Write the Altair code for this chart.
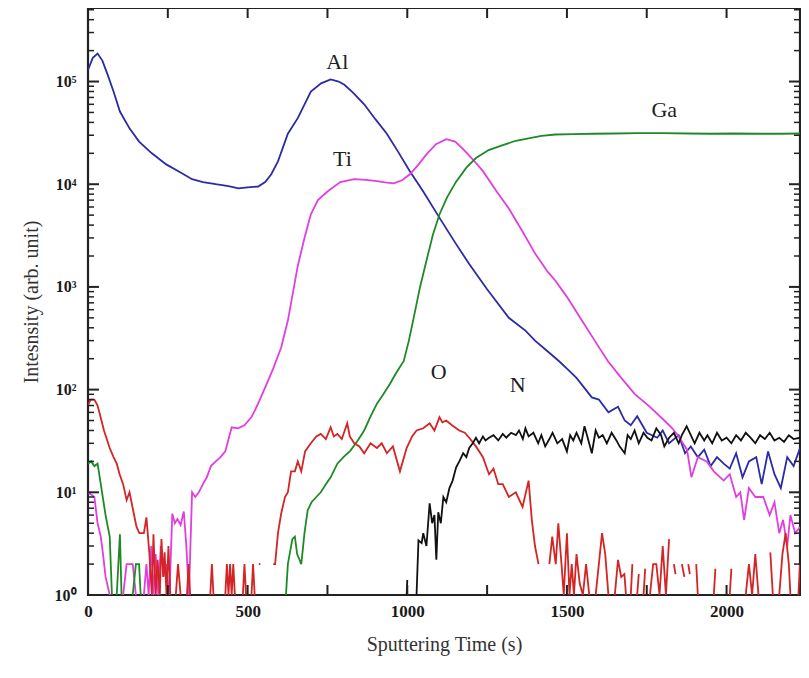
import altair as alt
import pandas as pd

# ---------------- data ----------------
al_x = [0, 15, 30, 45, 60, 80, 100, 130, 160, 200, 245, 290, 326, 360, 400, 440, 471, 500, 533, 555,
        574, 595, 626, 657, 698, 730, 760, 785, 803, 830, 865, 900, 936, 970, 1008, 1050, 1101, 1150,
        1194, 1250, 1318, 1370, 1400, 1430, 1473, 1500, 1530, 1578, 1600, 1630, 1660, 1681, 1700, 1720,
        1750, 1783, 1800, 1820, 1850, 1870, 1888, 1910, 1930, 1950, 1970, 1991, 2010, 2030, 2050, 2070,
        2093, 2110, 2130, 2150, 2170, 2190, 2210, 2230]
al_y = [1.3e5, 1.7e5, 1.87e5, 1.6e5, 1.2e5, 8e4, 5.1e4, 3.5e4, 2.6e4, 2.0e4, 1.56e4, 1.3e4, 1.12e4,
        1.05e4, 1.0e4, 9.6e3, 9.1e3, 9.3e3, 9.5e3, 1.05e4, 1.25e4, 1.67e4, 3.1e4, 4.4e4, 8e4, 9.6e4,
        1.05e5, 1.0e5, 9.3e4, 7.8e4, 6e4, 4.3e4, 3.1e4, 2.1e4, 1.34e4, 8.5e3, 4.7e3, 2.7e3, 1.67e3,
        950, 500, 375, 300, 250, 192, 160, 130, 84, 80, 60, 68, 50, 45, 55, 38, 34, 40, 30, 36, 24, 28,
        22, 26, 18, 22, 19, 17, 24, 14, 20, 22, 12, 25, 15, 11, 22, 18, 27]

ti_x = [0, 10, 20, 30, 40, 47, 55, 68, 90, 110, 121, 130, 140, 150, 162, 175, 183, 190, 198, 205, 212,
        220, 228, 236, 245, 255, 264, 272, 280, 290, 300, 308, 316, 326, 336, 347, 360, 372, 385, 400,
        415, 430, 450, 470, 490, 512, 530, 555, 580, 605, 626, 657, 678, 698, 720, 750, 790, 834, 870,
        905, 930, 958, 985, 1008, 1035, 1060, 1090, 1122, 1150, 1175, 1205, 1237, 1280, 1318, 1360,
        1401, 1440, 1464, 1500, 1547, 1590, 1628, 1670, 1712, 1760, 1805, 1830, 1850, 1876, 1890, 1910,
        1938, 1960, 1991, 2010, 2030, 2043, 2055, 2070, 2090, 2115, 2135, 2150, 2165, 2177, 2190, 2200,
        2215, 2230]
ti_y = [10, 9.5, 9, 5, 3.7, 2.5, 1.5, 1, None, 1, 2, 2, 2, 1, None, 1, 2, 1, 3, 1, 2.5, 1, 3, 1.5, 2,
        1, 6.2, 5, 5.5, 4.8, 6.5, 3, 1, 10, 9, 10, 12, 14, 18, 20, 22, 25, 43, 42, 45, 54, 70, 105,
        160, 257, 470, 1.6e3, 3e3, 5.1e3, 7e3, 8.5e3, 1.05e4, 1.12e4, 1.1e4, 1.07e4, 1.04e4, 1.02e4,
        1.1e4, 1.25e4, 1.55e4, 1.95e4, 2.45e4, 2.75e4, 2.6e4, 2.2e4, 1.75e4, 1.34e4, 8.5e3, 5.8e3,
        3.5e3, 2.1e3, 1.4e3, 1.15e3, 800, 470, 290, 190, 130, 91, 68, 50, 42, 35, 26, 14, 22, 20, 16,
        13, 15, 9, 10, 5.4, 11, 9, 9, 6, 8, 4, 5.4, 3, 6, 4, 4.6]

ga_x = [0, 10, 20, 30, 40, 55, 68, 75, 82, 90, 100, 105, 120, 140, 150, 160, 165, 400, 620, 626, 640,
        648, 655, 668, 678, 688, 700, 715, 729, 745, 760, 781, 800, 822, 845, 865, 885, 905, 925, 946,
        965, 989, 1005, 1020, 1040, 1060, 1080, 1101, 1125, 1153, 1185, 1215, 1255, 1299, 1340, 1380,
        1420, 1464, 1520, 1580, 1650, 1720, 1800, 1880, 1950, 2020, 2100, 2170, 2230]
ga_y = [19, 20, 18, 19, 12, 6, 3.7, 1, None, 1, 3.9, 1, None, 1, 2, 2, 1, None, 1, 2, 3.5, 3.7, 2.5,
        2, 4, 6.7, 8, 9, 10, 12, 14, 19, 22, 25.5, 32, 40, 55, 73, 90, 114, 145, 190, 300, 500, 1000,
        1.8e3, 3.2e3, 5.1e3, 7.5e3, 1.06e4, 1.45e4, 1.8e4, 2.15e4, 2.4e4, 2.65e4, 2.8e4, 2.95e4,
        3.05e4, 3.08e4, 3.1e4, 3.12e4, 3.15e4, 3.15e4, 3.12e4, 3.1e4, 3.12e4, 3.1e4, 3.1e4, 3.12e4]

o_x = [0, 8, 20, 30, 37, 50, 68, 80, 90, 99, 110, 121, 130, 140, 152, 161, 175, 183, 192, 200, 205,
       212, 218, 225, 230, 236, 240, 246, 252, 258, 266, 275, 282, 290, 300, 310, 315, 320, 350, 383,
       388, 393, 410, 430, 435, 440, 445, 450, 455, 460, 472, 485, 490, 495, 505, 512, 517, 522, 528,
       535, 540, 560, 580, 586, 595, 605, 617, 626, 636, 648, 657, 668, 680, 698, 715, 729, 745, 760,
       770, 781, 795, 812, 820, 834, 850, 865, 885, 905, 920, 936, 955, 977, 998, 1015, 1029, 1050,
       1070, 1085, 1101, 1110, 1122, 1140, 1163, 1180, 1194, 1215, 1237, 1256, 1270, 1285, 1299, 1318,
       1340, 1361, 1380, 1390, 1400, 1411, 1430, 1445, 1454, 1465, 1473, 1483, 1490, 1500, 1508, 1515,
       1522, 1530, 1540, 1550, 1560, 1570, 1580, 1590, 1600, 1610, 1620, 1630, 1640, 1650, 1660, 1670,
       1680, 1685, 1692, 1700, 1705, 1712, 1720, 1725, 1732, 1740, 1745, 1752, 1760, 1770, 1780, 1790,
       1800, 1810, 1820, 1828, 1835, 1840, 1850, 1860, 1868, 1874, 1880, 1885, 1895, 1905, 1910, 1930,
       1960, 1965, 1990, 2010, 2015, 2030, 2060, 2070, 2080, 2090, 2100, 2120, 2137, 2145, 2155, 2165,
       2175, 2185, 2195, 2200, 2215, 2225, 2230]
o_y = [70, 80, 80, 70, 58, 40, 27, 22, 19, 15, 12, 8.4, 10, 7, 4.6, 4, 4, 5.7, 2.6, 1, 3.9, 1, 2.2,
       1, 3.5, 1.5, 2.6, 1, 3, 1, None, 1, 2, 1, None, 1, 2, 1, None, 1, 2, 1, None, 1, 2, 1, 2, 1,
       2, 1, None, 1, 2, 1, None, 1, 2, 1, None, 2, 2, None, 2, 2, 4, 6.2, 9, 10, 16, 16, 20, 16, 25,
       30, 35, 37, 33, 43, 35, 37, 33, 47, 35, 30, 28, 24, 30, 27, 30, 24, 28, 16, 27, 35, 40, 42, 47,
       40, 54, 48, 50, 45, 40, 38, 34, 28, 22, 15, 17, 12, 12, 9, 10, 7.2, 13, 5.4, 3, 2, None, 2,
       3.7, 2, 5, 2, 1, 4, 1, 2, 1, 2.5, 1.3, 1, 2, 1, None, 1, 2, 4, 2.5, 1, None, 1, 2.2, 1.5, 1.6,
       1, None, 1, 2, None, 1, 1.6, None, 1, 1.8, None, 1, 2, 2, 1, 3, 1, 3.5, None, 2, 1.6, None, 2,
       1.5, None, 2, 1.6, None, 2, 1, None, 1, 1.8, None, 1, 1.8, None, 1, 2, 1, 2.5, 1, None, 2.6, 1,
       None, 1, 2.5, 4, 2, 1, None, 1, 2]

n_x = [998, 1000, 1010, 1029, 1035, 1045, 1050, 1060, 1070, 1078, 1085, 1091, 1097, 1105, 1113, 1122,
       1132, 1142, 1153, 1163, 1175, 1185, 1194, 1205, 1215, 1225, 1237, 1245, 1256, 1270, 1285, 1299,
       1310, 1325, 1340, 1350, 1362, 1370, 1380, 1395, 1410, 1420, 1432, 1445, 1455, 1470, 1485, 1500,
       1510, 1520, 1530, 1545, 1555, 1565, 1578, 1590, 1600, 1612, 1625, 1640, 1655, 1665, 1681, 1690,
       1700, 1712, 1725, 1740, 1752, 1765, 1780, 1795, 1805, 1820, 1835, 1850, 1860, 1875, 1888, 1900,
       1915, 1930, 1940, 1955, 1970, 1985, 2000, 2015, 2030, 2045, 2060, 2075, 2090, 2105, 2120, 2135,
       2150, 2165, 2180, 2195, 2210, 2230]
n_y = [1, 1.4, None, 1, 3.4, 3.2, 4, 3, 7.8, 5, 6, 2.2, 6.4, 5, 9, 8, 11, 13, 17.5, 20, 24, 22, 27,
       30, 34, 30, 35, 32, 34, 36, 32, 37, 34, 38, 36, 40, 33, 42, 35, 38, 30, 36, 28, 33, 38, 30, 33,
       25, 36, 32, 38, 30, 44, 34, 24, 40, 34, 36, 30, 38, 32, 28, 24, 36, 33, 40, 30, 38, 34, 32, 42,
       36, 28, 34, 38, 30, 36, 44, 36, 30, 38, 32, 36, 30, 38, 32, 34, 30, 36, 32, 38, 34, 30, 36, 33,
       38, 32, 34, 31, 36, 33, 34]

series_names = ["Al", "Ti", "Ga", "O", "N"]
series_colors = ["#2b2ba6", "#e13ee0", "#1f8a25", "#d42424", "#111111"]

label_text = ["Al", "Ti", "Ga", "O", "N"]
label_x = [781, 797, 1805, 1098, 1346]
label_y = [1.55e5, 1.75e4, 5.3e4, 150, 112]

y_major = [1, 10, 100, 1000, 10000, 100000]
x_major = [0, 500, 1000, 1500, 2000]
x_all_ticks = [250, 500, 750, 1000, 1250, 1500, 1750, 2000]

# ---------------- build tables ----------------
rows = []
for name, xs, ys in zip(series_names,
                        [al_x, ti_x, ga_x, o_x, n_x],
                        [al_y, ti_y, ga_y, o_y, n_y]):
    seg = 0
    for xv, yv in zip(xs, ys):
        if yv is None:
            seg += 1
            continue
        rows.append({"series": name, "seg": f"{name}{seg}", "t": xv, "v": yv})
df = pd.DataFrame(rows)

labels_df = pd.DataFrame({"text": label_text, "t": label_x, "v": label_y})

y_minor = [m * d for d in y_major for m in range(2, 10) if m * d < 5.2e5]
ymaj_df = pd.DataFrame({"v": y_major[1:]})
ymin_df = pd.DataFrame({"v": y_minor})
xt_df = pd.DataFrame({"t": x_all_ticks})

W, H = 712, 587
XDOM = [0, 2230]
YDOM = [1, 5.2e5]
FONT = "Liberation Serif"

xscale = alt.Scale(domain=XDOM, nice=False, zero=False)
yscale = alt.Scale(type="log", domain=YDOM, nice=False)

x_enc = alt.X("t:Q", scale=xscale,
              axis=alt.Axis(values=x_major, format="d", title="Sputtering Time (s)", ticks=False,
                            domain=False, grid=False, labelFont=FONT, labelFontSize=17,
                            labelFontWeight="bold", labelColor="#1a1a1a", labelPadding=8,
                            titleFont=FONT, titleFontSize=20, titleFontWeight="normal",
                            titleColor="#333", titlePadding=15, labelFlush=False))
y_enc = alt.Y("v:Q", scale=yscale,
              axis=alt.Axis(values=y_major, title="Intesnsity (arb. unit)", ticks=False, domain=False,
                            grid=False, labelFont=FONT, labelFontSize=16, labelFontWeight="bold",
                            labelColor="#1a1a1a", labelPadding=12,
                            labelExpr="'10' + ['⁰','¹','²','³','⁴','⁵'][round(log(datum.value)/LN10)]",
                            titleFont=FONT, titleFontSize=20, titleFontWeight="normal",
                            titleColor="#333", titlePadding=13, labelFlush=False))

lines = alt.Chart(df).mark_line(strokeWidth=1.8, clip=True).encode(
    x=x_enc, y=y_enc,
    color=alt.Color("series:N", scale=alt.Scale(domain=series_names, range=series_colors), legend=None),
    detail="seg:N",
    order="t:Q",
)

texts = alt.Chart(labels_df).mark_text(font=FONT, fontSize=22, color="#222", baseline="middle").encode(
    x=alt.X("t:Q", scale=xscale), y=alt.Y("v:Q", scale=yscale), text="text:N")

tick_color = "#222"
left_major = alt.Chart(ymaj_df).mark_rule(color=tick_color, strokeWidth=2).encode(
    y=alt.Y("v:Q", scale=yscale), x=alt.value(0), x2=alt.value(11))
left_minor = alt.Chart(ymin_df).mark_rule(color=tick_color, strokeWidth=1.5).encode(
    y=alt.Y("v:Q", scale=yscale), x=alt.value(0), x2=alt.value(6))
right_major = alt.Chart(ymaj_df).mark_rule(color=tick_color, strokeWidth=2).encode(
    y=alt.Y("v:Q", scale=yscale), x=alt.value(W), x2=alt.value(W - 11))
right_minor = alt.Chart(ymin_df).mark_rule(color=tick_color, strokeWidth=1.5).encode(
    y=alt.Y("v:Q", scale=yscale), x=alt.value(W), x2=alt.value(W - 6))
top_ticks = alt.Chart(xt_df).mark_rule(color=tick_color, strokeWidth=2).encode(
    x=alt.X("t:Q", scale=xscale), y=alt.value(0), y2=alt.value(10))
bottom_ticks = alt.Chart(xt_df).mark_rule(color=tick_color, strokeWidth=2).encode(
    x=alt.X("t:Q", scale=xscale), y=alt.value(H), y2=alt.value(H - 10))

chart = alt.layer(lines, texts, left_major, left_minor, right_major, right_minor,
                  top_ticks, bottom_ticks).properties(
    width=W, height=H,
    autosize=alt.AutoSizeParams(type="none"),
    padding={"left": 80, "top": 0, "right": 1, "bottom": 75},
    background="white",
).configure_view(stroke="#222", strokeWidth=2.2)

chart.save("out.html", embed_options={"renderer": "svg", "actions": False})
